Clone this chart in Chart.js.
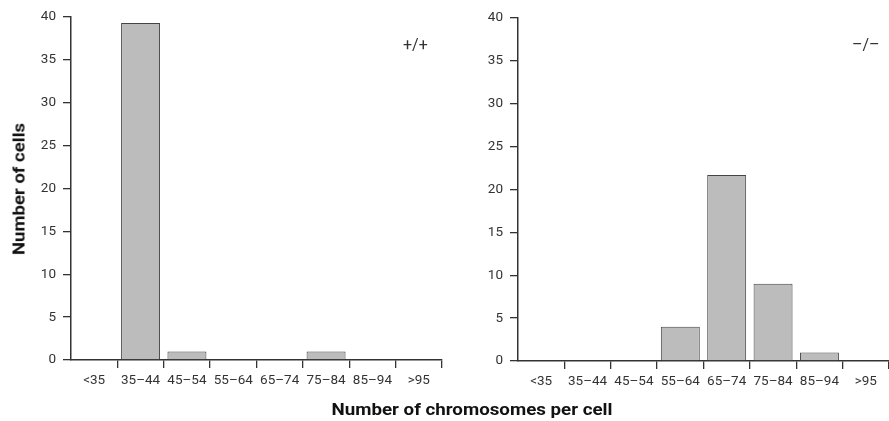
<!DOCTYPE html>
<html>
<head>
<meta charset="utf-8">
<script src="https://cdn.jsdelivr.net/npm/chart.js@4"></script>
<style>
  body { margin: 0; background: #fff; width: 889px; height: 421px; position: relative; overflow: hidden;
         font-family: Roboto, 'Liberation Sans', sans-serif; color: #222; }
  .panel { position: absolute; top: 0; }
  #left { left: 0; width: 445px; height: 400px; }
  #right { left: 445px; width: 444px; height: 401px; }
  .ytitle { position: absolute; left: 19px; top: 189px; font-weight: bold; font-size: 17px; line-height: 17px; white-space: nowrap; color: #111; }
  .xtitle { position: absolute; left: 472px; top: 409px; font-weight: bold; font-size: 17px; line-height: 17px; white-space: nowrap; color: #111; }
  .tag { position: absolute; top: 44px; transform: translateY(-50%); font-size: 16px; color: #333; }
</style>
</head>
<body>
<div class="panel" id="left"><canvas id="chartLeft"></canvas></div>
<div class="panel" id="right"><canvas id="chartRight"></canvas></div>
<div class="ytitle" id="ytitle">Number of cells</div>
<div class="xtitle" id="xtitle">Number of chromosomes per cell</div>
<div class="tag" style="left:403px">+/+</div>
<div class="tag" style="left:852px">–/–</div>
<script>
const categories = ["<35", "35–44", "45–54", "55–64", "65–74", "75–84", "85–94", ">95"];
const wildType = [0, 39.3, 1, 0, 0, 1, 0, 0];
const knockout = [0, 0, 0, 4, 21.7, 9, 1, 0];
const yMax = 40;
const yStep = 5;

const fontFamily = "Roboto, 'Liberation Sans', sans-serif";
const axisColor = '#333';

// the titles in the figure are set in a condensed face, squeeze them to the same length
function squeeze(id, target, rotate) {
  const el = document.getElementById(id);
  const k = target / el.offsetWidth;
  el.style.transform = 'translate(-50%, -50%)' + (rotate ? ' rotate(-90deg)' : '') + ' scaleX(' + k + ')';
}
squeeze('xtitle', 281, false);
squeeze('ytitle', 132, true);

function makeChart(canvas, values, yWidth, pad) {
  return new Chart(canvas, {
    type: 'bar',
    data: {
      labels: categories,
      datasets: [{
        data: values,
        backgroundColor: '#bcbcbc',
        borderColor: '#444',
        borderWidth: 1,
        borderSkipped: 'bottom',
        categoryPercentage: 1,
        barPercentage: 0.84
      }]
    },
    options: {
      responsive: true,
      maintainAspectRatio: false,
      animation: false,
      events: [],
      layout: { padding: pad },
      plugins: { legend: { display: false }, tooltip: { enabled: false } },
      scales: {
        x: {
          offset: true,
          grid: {
            offset: true,
            drawOnChartArea: false,
            tickLength: 8,
            lineWidth: 1.3,
            color: (c) => c.index === 0 ? 'rgba(0,0,0,0)' : axisColor
          },
          border: { color: axisColor, width: 1.5 },
          ticks: { color: '#333', padding: 5, font: { family: fontFamily, size: 13.5 }, maxRotation: 0, autoSkip: false },
          afterFit: (s) => { s.height = 40; }
        },
        y: {
          min: 0,
          max: yMax,
          grid: { drawOnChartArea: false, tickLength: 8, lineWidth: 1.3, color: axisColor },
          border: { color: axisColor, width: 1.5 },
          ticks: { stepSize: yStep, color: '#333', padding: 7, font: { family: fontFamily, size: 13.5 } },
          afterFit: (s) => { s.width = yWidth; }
        }
      }
    }
  });
}

makeChart(document.getElementById('chartLeft'), wildType, 71, { top: 17, right: 3, left: 0, bottom: 0 });
makeChart(document.getElementById('chartRight'), knockout, 73, { top: 18, right: 0, left: 0, bottom: 0 });
</script>
</body>
</html>
